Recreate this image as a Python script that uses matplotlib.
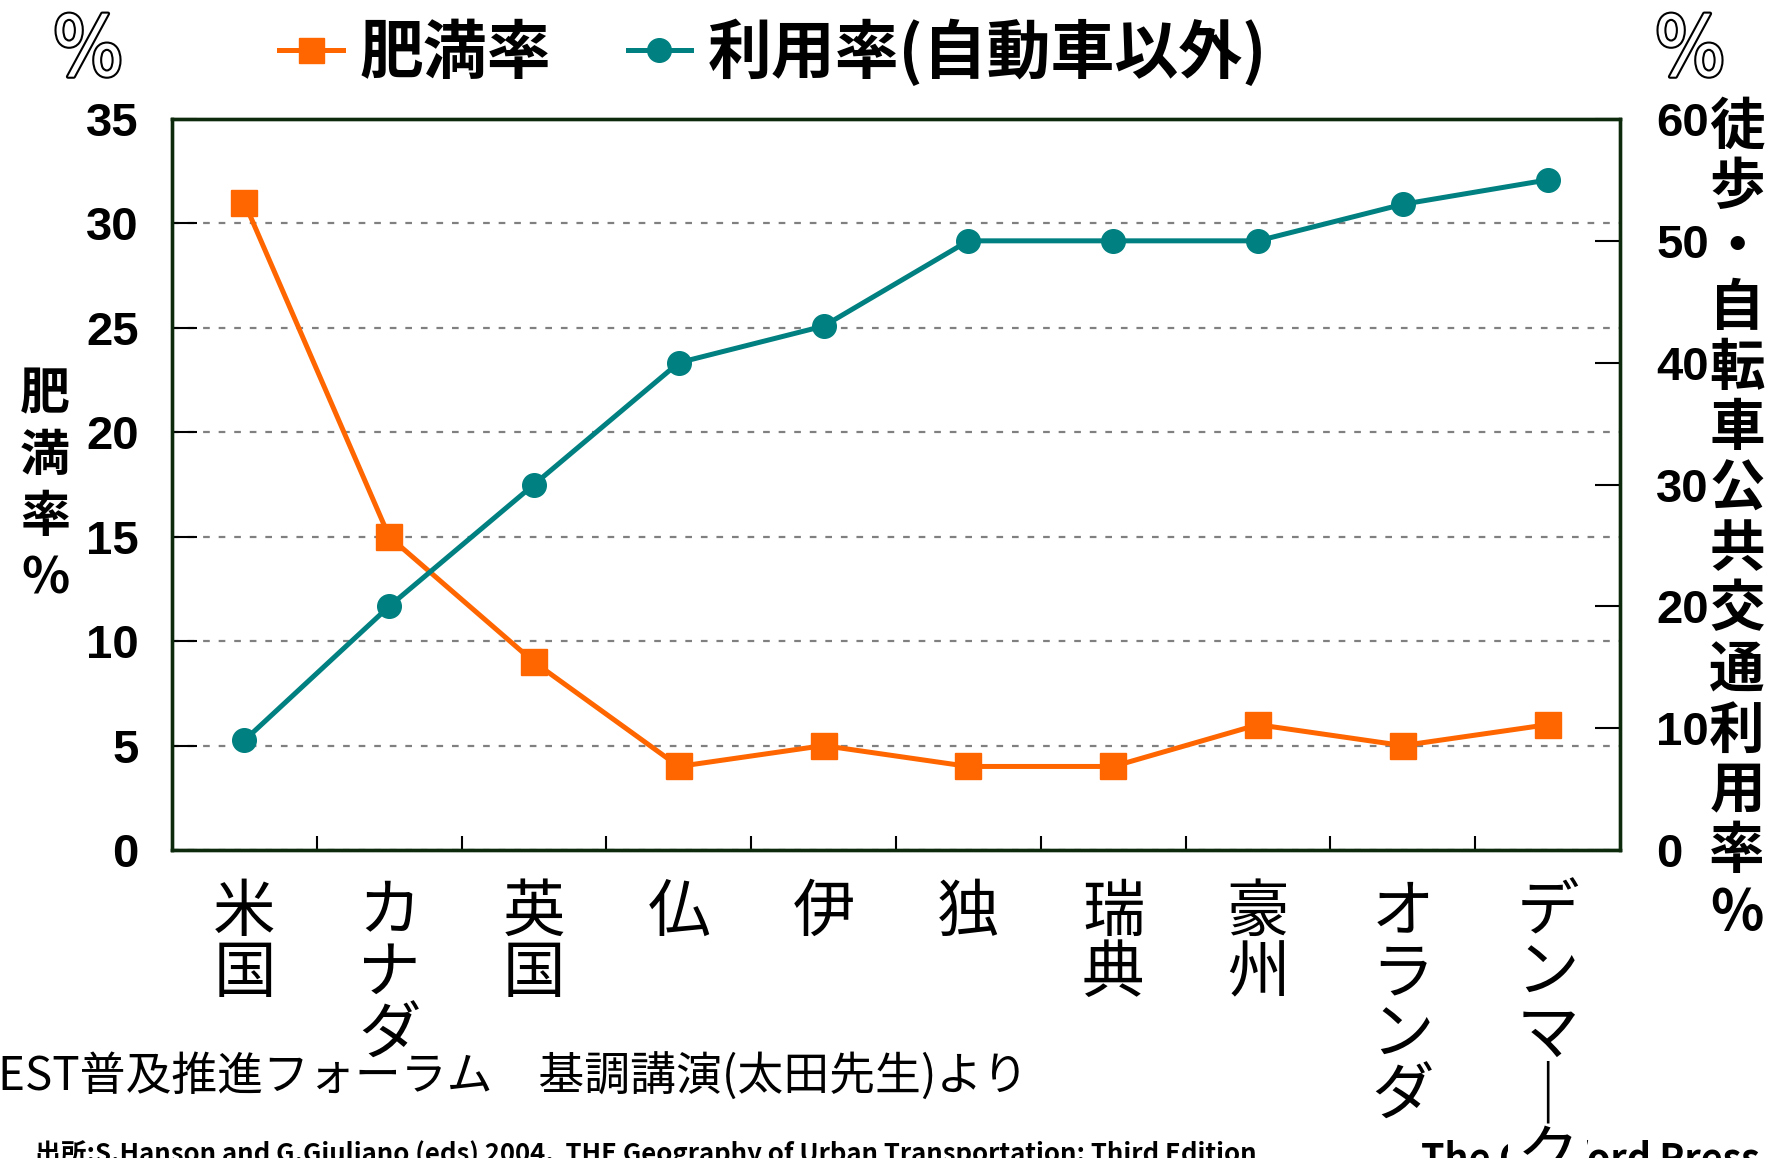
import matplotlib
matplotlib.use('Agg')
import matplotlib.pyplot as plt
import matplotlib.patheffects as pe
from matplotlib.lines import Line2D

# ---------------- data ----------------
categories = ["米国", "カナダ", "英国", "仏", "伊", "独", "瑞典", "豪州", "オランダ", "デンマーク"]
obesity = [31, 15, 9, 4, 5, 4, 4, 6, 5, 6]          # 肥満率 (left axis, %)
usage = [9, 20, 30, 40, 43, 50, 50, 50, 53, 55]     # 徒歩・自転車・公共交通利用率 (right axis, %)
left_ticks = [0, 5, 10, 15, 20, 25, 30, 35]
right_ticks = [0, 10, 20, 30, 40, 50, 60]
legend_labels = ["肥満率", "利用率(自動車以外)"]
left_label = "肥満率%"
right_label = "徒歩・自転車公共交通利用率%"
note_text = "EST普及推進フォーラム　基調講演(太田先生)より"
source_text = "出所:S.Hanson and G.Giuliano (eds) 2004,  THE Geography of Urban Transportation: Third Edition"
source_text2 = "The Guilford Press"

plt.rcParams['font.family'] = ['Noto Sans CJK JP', 'DejaVu Sans']

ORANGE = '#FF6600'
TEAL = '#008080'
FRAME = '#0d2a0d'

W, H = 1776, 1158
fig = plt.figure(figsize=(W / 100, H / 100), dpi=100)
L, R, T, B = 172, 1620, 119, 850
ax = fig.add_axes([L / W, 1 - B / H, (R - L) / W, (B - T) / H])
ax2 = ax.twinx()

x = list(range(len(categories)))
ax.plot(x, obesity, color=ORANGE, lw=3.6, marker='s', ms=19, zorder=3)
ax2.plot(x, usage, color=TEAL, lw=3.6, marker='o', ms=17, zorder=3)

ax.set_xlim(-0.5, len(categories) - 0.5)
ax.set_ylim(left_ticks[0], left_ticks[-1])
ax2.set_ylim(right_ticks[0], right_ticks[-1])

# grid
ax.set_yticks(left_ticks)
ax.yaxis.grid(True, color='#808080', linestyle=(0, (3, 4)), linewidth=1.6)
ax.set_axisbelow(True)

# y ticks
numfont = dict(family=['Liberation Sans', 'DejaVu Sans'], weight='bold', size=34)
ax.tick_params(axis='y', direction='in', length=18, width=1.5, pad=24, colors='black')
ax.set_yticklabels([str(v) for v in left_ticks], **numfont)
ax2.set_yticks(right_ticks)
ax2.tick_params(axis='y', direction='in', length=18, width=1.5, pad=26, colors='black')
ax2.set_yticklabels([str(v) for v in right_ticks], **numfont)

# x ticks: category labels vertical, boundary ticks inward
def vert(s):
    return "\n".join(ch if ch != "ー" else "｜" for ch in s)

ax.set_xticks(x)
ax.set_xticklabels([vert(c) for c in categories], fontsize=45, linespacing=0.95)
ax.tick_params(axis='x', which='major', length=0, pad=22)
ax.set_xticks([i + 0.5 for i in x[:-1]], minor=True)
ax.tick_params(axis='x', which='minor', direction='in', length=10, width=1.5)
last = ax.get_xticklabels()[-1]
last.set_bbox(dict(facecolor='white', edgecolor='none', pad=6))
last.set_zorder(10)

for a in (ax, ax2):
    for s in a.spines.values():
        s.set_color(FRAME)
        s.set_linewidth(2.4)

# legend
handles = [Line2D([], [], color=ORANGE, lw=3.6, marker='s', ms=18),
           Line2D([], [], color=TEAL, lw=3.6, marker='o', ms=17)]
fig.legend(handles, legend_labels, loc='center', bbox_to_anchor=(773 / W, 1 - 53 / H),
           ncol=2, frameon=False, prop=dict(size=46, weight='bold'),
           handlelength=1.0, handletextpad=0.25, columnspacing=1.2)

# axis labels (stacked vertical text)
fig.text(45 / W, 1 - 487 / H, "\n".join(left_label), ha='center', va='center',
         fontsize=36, weight='bold', linespacing=1.26)
fig.text(1737 / W, 1 - 520 / H, "\n".join(right_label), ha='center', va='center',
         fontsize=40, weight='bold', linespacing=1.1)

# hollow % signs
for xp in (88, 1690):
    fig.text(xp / W, 1 - 52 / H, "%", ha='center', va='center', fontsize=60,
             family=['DejaVu Sans'], fontstretch='condensed', color='white',
             path_effects=[pe.withStroke(linewidth=3, foreground='black')])

# notes (drawn beneath the axes so the category labels cover them)
fig.text(-2 / W, 1 - 1078 / H, note_text, ha='left', va='center', fontsize=33, zorder=-1)
fig.text(35 / W, 1 - 1140 / H, source_text, ha='left', va='top', fontsize=18.5,
         weight='bold', zorder=-1)
fig.text(1421 / W, 1 - 1140 / H, source_text2, ha='left', va='top', fontsize=27,
         weight='bold', zorder=-1)

fig.savefig('out.png', dpi=100, facecolor='white')
